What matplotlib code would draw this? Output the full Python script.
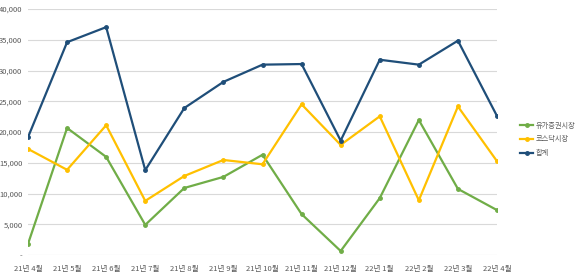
import matplotlib.pyplot as plt
from matplotlib.ticker import FuncFormatter

plt.rcParams['font.family'] = ['Noto Sans CJK KR', 'DejaVu Sans']

months = ["21년 4월", "21년 5월", "21년 6월", "21년 7월", "21년 8월", "21년 9월",
          "21년 10월", "21년 11월", "21년 12월", "22년 1월", "22년 2월", "22년 3월",
          "22년 4월"]
kospi = [1800, 20650, 15950, 4900, 10900, 12700, 16300, 6650, 650, 9250,
         21950, 10750, 7300]
kosdaq = [17250, 13850, 21100, 8800, 12850, 15450, 14750, 24500, 17900, 22550,
          8900, 24150, 15250]
total = [19150, 34600, 37050, 13800, 23900, 28150, 30950, 31050, 18600, 31750,
         30950, 34850, 22600]

GREEN = "#70AD47"
YELLOW = "#FFC000"
BLUE = "#1F4E79"

fig = plt.figure(figsize=(5.8, 2.8), dpi=100)
ax = fig.add_axes([28 / 580, 1 - 255 / 280, (497 - 28) / 580, (255 - 9) / 280])

x = list(range(len(months)))
ax.plot(x, kospi, color=GREEN, lw=1.6, marker="o", ms=2.5, label="유가증권시장")
ax.plot(x, kosdaq, color=YELLOW, lw=1.6, marker="o", ms=2.5, label="코스닥시장")
ax.plot(x, total, color=BLUE, lw=1.6, marker="o", ms=2.5, label="합계")

ax.set_xlim(0, len(months) - 1)
ax.set_ylim(0, 40000)
ax.set_yticks(range(0, 40001, 5000))
ax.yaxis.set_major_formatter(FuncFormatter(lambda v, p: "-" if v == 0 else f"{int(v):,}"))
ax.set_xticks(x)
ax.set_xticklabels(months)
ax.tick_params(axis="both", length=0, labelsize=5.5, colors="#595959")
ax.tick_params(axis="x", pad=7)
ax.tick_params(axis="y", pad=4)

ax.grid(axis="y", color="#D9D9D9", lw=0.8)
ax.set_axisbelow(True)
for s in ax.spines.values():
    s.set_visible(False)

ax.legend(loc="center left", bbox_to_anchor=(1.05, 0.47), frameon=False,
          borderaxespad=0, borderpad=0, fontsize=5.2, handlelength=1.8,
          handletextpad=0.3, labelspacing=0.8, labelcolor="#595959")

fig.savefig("out.png", dpi=100)
